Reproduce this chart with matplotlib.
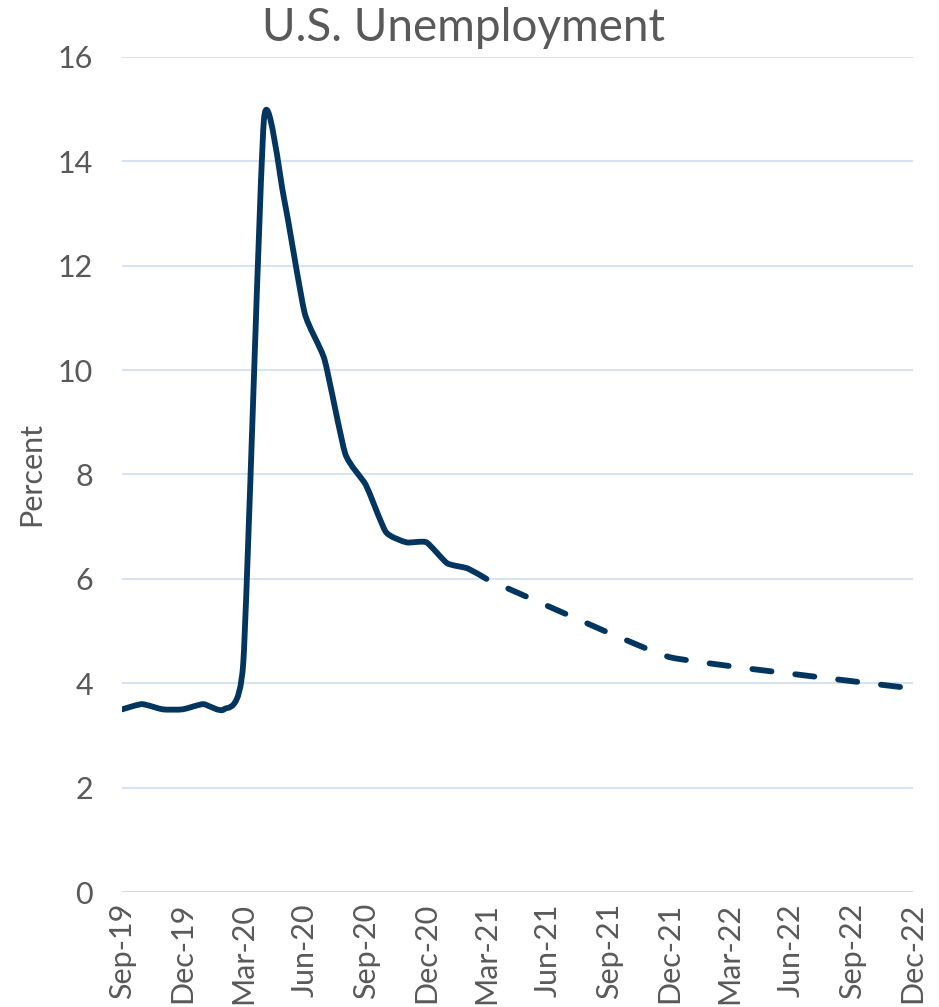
import datetime as dt
import matplotlib
matplotlib.use("Agg")
import matplotlib.pyplot as plt
import matplotlib.dates as mdates
from matplotlib.path import Path
from matplotlib.patches import PathPatch
import numpy as np

# monthly actual unemployment rate (percent)
actual_months = ["2019-09", "2019-10", "2019-11", "2019-12", "2020-01", "2020-02",
                 "2020-03", "2020-04", "2020-05", "2020-06", "2020-07", "2020-08",
                 "2020-09", "2020-10", "2020-11", "2020-12", "2021-01", "2021-02",
                 "2021-03"]
actual_rate = [3.5, 3.6, 3.5, 3.5, 3.6, 3.5,
               4.4, 14.8, 13.3, 11.1, 10.2, 8.4,
               7.8, 6.9, 6.7, 6.7, 6.3, 6.2,
               6.0]

# projection (dashed)
proj_months = ["2021-03", "2021-12", "2022-12"]
proj_rate = [6.0, 4.5, 3.9]

y_ticks = [0, 2, 4, 6, 8, 10, 12, 14, 16]

LINE_COLOR = "#03355F"
GRID_COLOR = "#D6E3F0"
TEXT_COLOR = "#595959"


def to_num(months):
    return mdates.date2num([dt.datetime.strptime(m, "%Y-%m") for m in months])


def smooth_path(x, y, k=0.1):
    """Bezier path through the points, like a smoothed spreadsheet line"""
    pts = np.column_stack([x, y])
    n = len(pts)
    verts = [pts[0]]
    codes = [Path.MOVETO]
    for i in range(n - 1):
        p0 = pts[max(i - 1, 0)]
        p1 = pts[i]
        p2 = pts[i + 1]
        p3 = pts[min(i + 2, n - 1)]
        verts += [p1 + (p2 - p0) * k, p2 - (p3 - p1) * k, p2]
        codes += [Path.CURVE4] * 3
    return Path(verts, codes)


plt.rcParams["font.family"] = ["Lato", "DejaVu Sans"]

fig = plt.figure(figsize=(9.39, 10.07), dpi=100)
ax = fig.add_axes([0.130, 0.1142, 0.842, 0.8292])

lw = 4.2
ax.add_patch(PathPatch(smooth_path(to_num(actual_months), actual_rate, k=0.09),
                       fill=False, edgecolor=LINE_COLOR, lw=lw,
                       capstyle="round", joinstyle="round"))
ax.add_patch(PathPatch(smooth_path(to_num(proj_months), proj_rate, k=0.05),
                       fill=False, edgecolor=LINE_COLOR, lw=lw,
                       linestyle=(3.3, (3.3, 4.1)),
                       capstyle="round", joinstyle="round"))

ax.set_xlim(to_num(["2019-09"])[0], to_num(["2022-12"])[0])
ax.set_ylim(0, 16)
ax.set_yticks(y_ticks)

ax.xaxis.set_major_locator(mdates.MonthLocator(bymonth=[3, 6, 9, 12]))
ax.xaxis.set_major_formatter(mdates.DateFormatter("%b-%y"))

for s in ax.spines.values():
    s.set_visible(False)
ax.grid(axis="y", color=GRID_COLOR, lw=1.5)
ax.axhline(0, color="#D9D9D9", lw=1.5)
ax.set_axisbelow(True)

ax.tick_params(axis="both", length=0, colors=TEXT_COLOR, labelsize=22)
ax.tick_params(axis="y", pad=21)
ax.tick_params(axis="x", pad=8)
plt.setp(ax.get_xticklabels(), rotation=90)

ax.set_ylabel("Percent", fontsize=22, color=TEXT_COLOR, labelpad=9)
fig.text(0.494, 0.972, "U.S. Unemployment", ha="center", va="center",
         fontsize=33, color=TEXT_COLOR)

fig.savefig("out.png", dpi=100)
